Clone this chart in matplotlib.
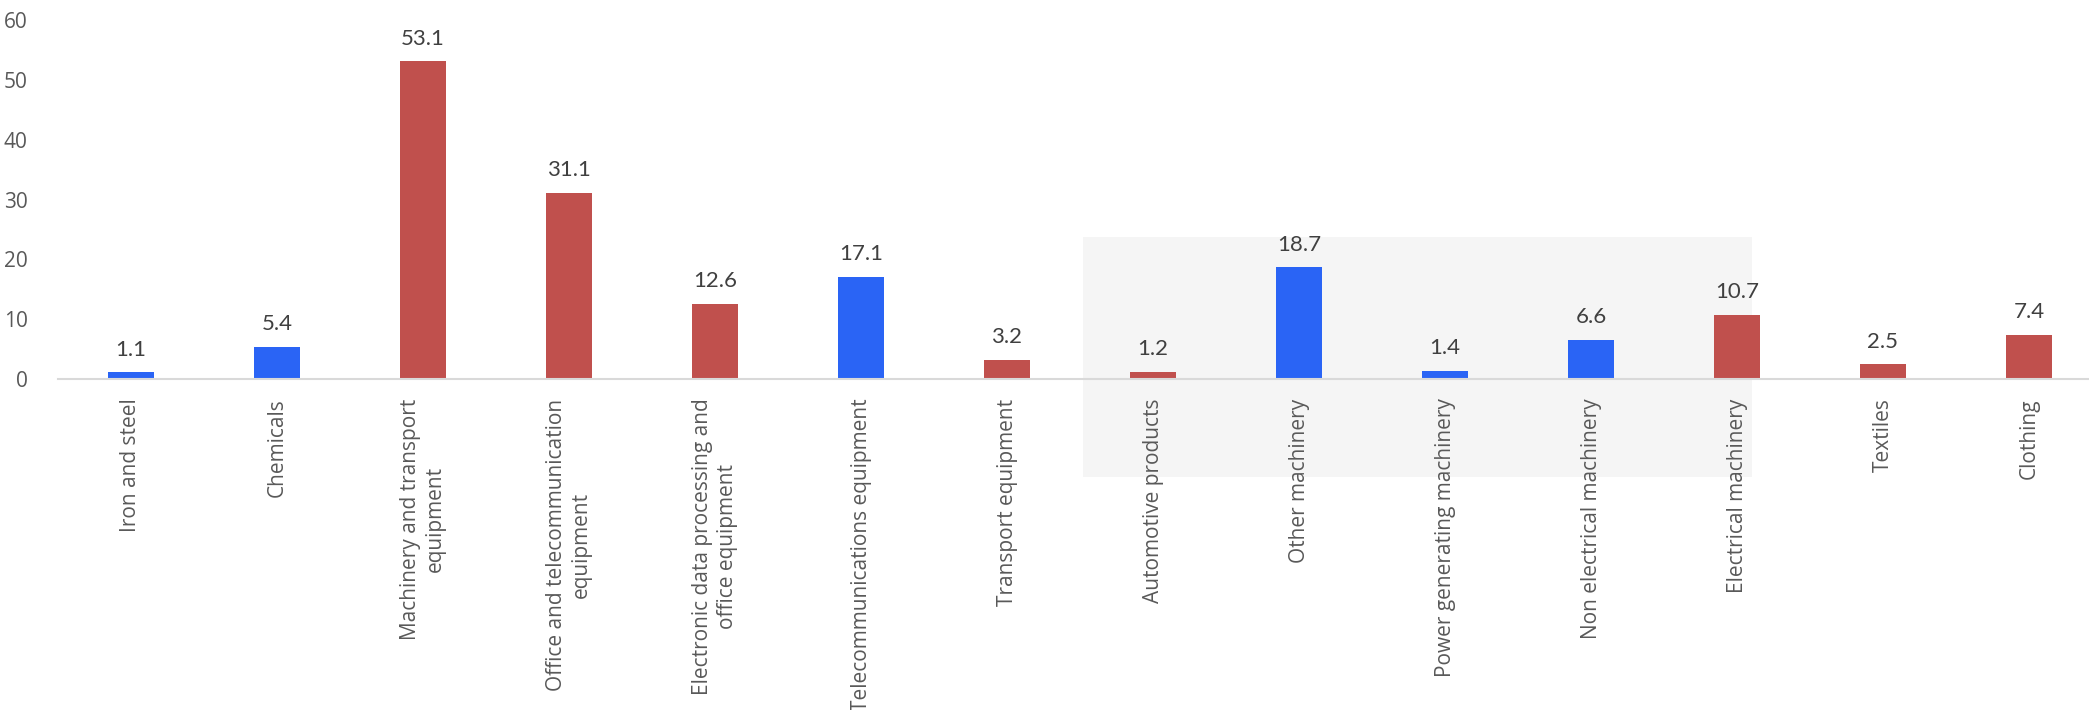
import matplotlib
matplotlib.use("Agg")
import matplotlib.pyplot as plt
from matplotlib.patches import Rectangle

categories = [
    "Iron and steel",
    "Chemicals",
    "Machinery and transport\nequipment",
    "Office and telecommunication\nequipment",
    "Electronic data processing and\noffice equipment",
    "Telecommunications equipment",
    "Transport equipment",
    "Automotive products",
    "Other machinery",
    "Power generating machinery",
    "Non electrical machinery",
    "Electrical machinery",
    "Textiles",
    "Clothing",
]
values = [1.1, 5.4, 53.1, 31.1, 12.6, 17.1, 3.2, 1.2, 18.7, 1.4, 6.6, 10.7, 2.5, 7.4]
group = ["b", "b", "r", "r", "r", "b", "r", "r", "b", "b", "b", "r", "r", "r"]

RED = "#C0504D"
BLUE = "#2A64F5"
colors = [BLUE if g == "b" else RED for g in group]

fig = plt.figure(figsize=(20.89, 7.10), dpi=100)
ax = fig.add_axes([58 / 2089, 1 - 379 / 710, 2044 / 2089, 359 / 710])

x = list(range(len(categories)))
bars = ax.bar(x, values, width=0.315, color=colors, zorder=3)

# shaded highlight box behind the machinery breakdown
ax.add_patch(Rectangle((6.52, -16.4), 11.10 - 6.52, 23.7 + 16.4,
                       facecolor="#F5F5F5", edgecolor="none",
                       clip_on=False, zorder=0))

for b, v in zip(bars, values):
    ax.annotate(f"{v:.1f}", (b.get_x() + b.get_width() / 2, v),
                xytext=(0, 9), textcoords="offset points",
                ha="center", va="bottom", fontsize=16,
                family="Lato", color="#404040")

ax.set_xlim(-0.5, 13.5)
ax.set_ylim(0, 60)
ax.set_yticks(range(0, 61, 10))
ax.set_xticks(x)
ax.set_xticklabels(categories, rotation=90, ha="center", va="top",
                   multialignment="center", fontsize=15,
                   family="Open Sans", color="#595959")
for lab in ax.get_yticklabels():
    lab.set_family("Open Sans")
    lab.set_fontsize(15)
    lab.set_color("#595959")

ax.tick_params(axis="both", length=0)
ax.tick_params(axis="x", pad=14)
ax.tick_params(axis="y", pad=22)
for s in ["top", "right", "left"]:
    ax.spines[s].set_visible(False)
ax.spines["bottom"].set_color("#D9D9D9")
ax.spines["bottom"].set_linewidth(1.5)
ax.spines["bottom"].set_zorder(4)
ax.patch.set_alpha(0)

fig.savefig("out.png", dpi=100)
